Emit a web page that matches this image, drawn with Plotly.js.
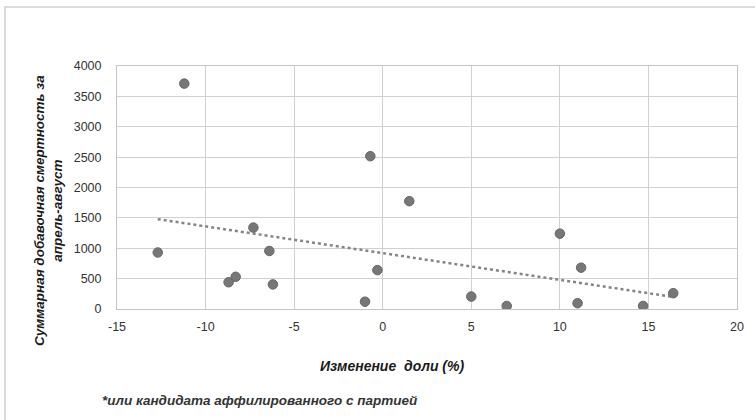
<!DOCTYPE html>
<html>
<head>
<meta charset="utf-8">
<script src="https://cdn.plot.ly/plotly-3.0.1.min.js"></script>
<style>
html,body{margin:0;padding:0;background:#fff;}
#chart{width:755px;height:420px;}
</style>
</head>
<body>
<div id="chart"></div>
<script>
// Change in share (%) and cumulative excess mortality (April–August)
const shareChange = [-11.2, -12.7, -7.3, -6.4, -8.7, -8.3, -6.2, -0.7, 1.5, -0.3, -1.0, 10.0, 11.2, 5.0, 7.0, 11.0, 14.7, 16.4];
const excessDeaths = [3710, 930, 1340, 955, 440, 530, 405, 2515, 1775, 640, 120, 1240, 680, 205, 50, 95, 50, 260];
const xTicks = [-15, -10, -5, 0, 5, 10, 15, 20];
const yTicks = [0, 500, 1000, 1500, 2000, 2500, 3000, 3500, 4000];

// Linear trend (least squares) computed from the data
const n = shareChange.length;
const mx = shareChange.reduce((a, b) => a + b, 0) / n;
const my = excessDeaths.reduce((a, b) => a + b, 0) / n;
let sxy = 0, sxx = 0;
for (let i = 0; i < n; i++) {
  sxy += (shareChange[i] - mx) * (excessDeaths[i] - my);
  sxx += (shareChange[i] - mx) ** 2;
}
const slope = sxy / sxx;
const intercept = my - slope * mx;
const trendX = [Math.min(...shareChange), Math.max(...shareChange)];
const trendY = trendX.map(v => intercept + slope * v);

const FONT = 'Liberation Sans, Arial, sans-serif';

const traces = [
  {
    x: trendX, y: trendY, mode: 'lines', type: 'scatter',
    line: {color: '#858585', width: 2.5, dash: 'dot'},
    hoverinfo: 'skip', showlegend: false
  },
  {
    x: shareChange, y: excessDeaths, mode: 'markers', type: 'scatter',
    marker: {color: '#777777', size: 9.5, line: {color: '#666666', width: 1}},
    showlegend: false
  }
];

const L = 117, R = 18, T = 66, B = 111, W = 755, H = 420;
const pw = W - L - R, ph = H - T - B;
const px = X => (X - L) / pw;
const py = Y => (H - B - Y) / ph;

const layout = {
  width: W, height: H,
  margin: {l: L, r: R, t: T, b: B, pad: 0},
  paper_bgcolor: '#ffffff', plot_bgcolor: '#ffffff',
  font: {family: FONT, color: '#333333'},
  xaxis: {
    range: [-15, 20], tickvals: xTicks, ticktext: xTicks.map(String),
    showgrid: true, gridcolor: '#d0d0d0', gridwidth: 1,
    zeroline: false, showline: true, linecolor: '#c4c4c4', linewidth: 1, mirror: true,
    ticks: '', tickfont: {size: 12.5, color: '#333333', family: FONT},
    ticklabelstandoff: 6, fixedrange: true
  },
  yaxis: {
    range: [0, 4000], tickvals: yTicks, ticktext: yTicks.map(String),
    showgrid: true, gridcolor: '#d0d0d0', gridwidth: 1,
    zeroline: false, showline: true, linecolor: '#c4c4c4', linewidth: 1, mirror: true,
    ticks: '', tickfont: {size: 12.5, color: '#333333', family: FONT},
    ticklabelstandoff: 12, fixedrange: true
  },
  shapes: [
    {type: 'rect', xref: 'paper', yref: 'paper',
     x0: px(5), x1: px(770), y0: py(440), y1: py(7),
     line: {color: '#d0d0d0', width: 1.5}, fillcolor: 'rgba(0,0,0,0)', layer: 'below'}
  ],
  annotations: [
    {xref: 'paper', yref: 'paper', x: px(48), y: py(211), xanchor: 'center', yanchor: 'middle',
     textangle: -90, showarrow: false, align: 'center',
     text: '<b><i>Суммарная добавочная смертность за<br>апрель-август</i></b>',
     font: {size: 13.5, color: '#1a1a1a', family: FONT}},
    {xref: 'paper', yref: 'paper', x: px(392), y: py(366), xanchor: 'center', yanchor: 'middle',
     showarrow: false,
     text: '<b><i>Изменение  доли (%)</i></b>',
     font: {size: 14, color: '#1a1a1a', family: FONT}},
    {xref: 'paper', yref: 'paper', x: px(100), y: py(400), xanchor: 'left', yanchor: 'middle',
     showarrow: false,
     text: '<b><i>*или кандидата аффилированного с партией</i></b>',
     font: {size: 13.5, color: '#333333', family: FONT}}
  ]
};

Plotly.newPlot('chart', traces, layout, {displayModeBar: false, staticPlot: true});
</script>
</body>
</html>
